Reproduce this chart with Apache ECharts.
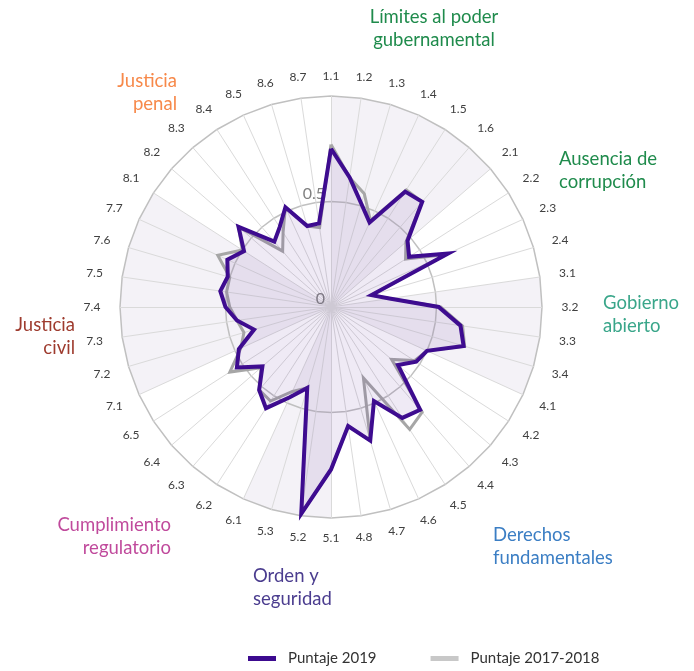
<!DOCTYPE html>
<html>
<head>
<meta charset="utf-8">
<script src="https://cdn.jsdelivr.net/npm/echarts@6/dist/echarts.min.js"></script>
<style>
  html, body { margin: 0; padding: 0; background: #ffffff; }
  #chart { width: 694px; height: 671px; }
</style>
</head>
<body>
<div id="chart"></div>
<script>
// Sub-factor codes, clockwise from the top
const indicators = [
  '1.1','1.2','1.3','1.4','1.5','1.6',
  '2.1','2.2','2.3','2.4',
  '3.1','3.2','3.3','3.4',
  '4.1','4.2','4.3','4.4','4.5','4.6','4.7','4.8',
  '5.1','5.2','5.3',
  '6.1','6.2','6.3','6.4','6.5',
  '7.1','7.2','7.3','7.4','7.5','7.6','7.7',
  '8.1','8.2','8.3','8.4','8.5','8.6','8.7'
];

const score2019 = [
  0.75, 0.62, 0.51, 0.44, 0.65, 0.66,
  0.48, 0.44, 0.61, 0.20,
  0.28, 0.51, 0.62, 0.655,
  0.50, 0.48, 0.42, 0.645, 0.625, 0.49, 0.66, 0.57,
  0.77, 0.99, 0.40,
  0.47, 0.57, 0.52, 0.43, 0.53,
  0.48, 0.38, 0.45, 0.50, 0.53, 0.51, 0.54,
  0.49, 0.58, 0.41, 0.45, 0.52, 0.40, 0.40
];

const score2017 = [
  0.77, 0.62, 0.56, 0.45, 0.66, 0.66,
  0.47, 0.42, 0.60, 0.20,
  0.28, 0.52, 0.63, 0.66,
  0.50, 0.47, 0.38, 0.66, 0.69, 0.37, 0.66, 0.57,
  0.77, 0.99, 0.40,
  0.44, 0.53, 0.52, 0.44, 0.57,
  0.47, 0.43, 0.45, 0.48, 0.50, 0.50, 0.59,
  0.50, 0.58, 0.35, 0.42, 0.52, 0.40, 0.38
];

const pillarNames = [
  'Límites al poder\ngubernamental',
  'Ausencia de\ncorrupción',
  'Gobierno\nabierto',
  'Derechos\nfundamentales',
  'Orden y\nseguridad',
  'Cumplimiento\nregulatorio',
  'Justicia\ncivil',
  'Justicia\npenal'
];

const shadedPillars = ['1', '3', '5', '7'];

const seriesNames = ['Puntaje 2019', 'Puntaje 2017-2018'];

// ---------------------------------------------------------------
const CX = 331, CY = 307, R = 211;
const FONT = 'Lato, "Open Sans", sans-serif';
const N = indicators.length;

// ECharts lays radar indicators out counter-clockwise; keep the first
// one on top and reverse the rest so the codes run clockwise.
const order = [0].concat(indicators.map((_, i) => i).slice(1).reverse());
const reorder = arr => order.map(i => arr[i]);

// Polygon sector of a pillar: from its first spoke to the first spoke of the next pillar
function sectorValues(p) {
  const start = indicators.findIndex(s => s.split('.')[0] === p);
  const end = indicators.findIndex((s, i) => i > start && s.split('.')[0] !== p);
  const vals = indicators.map(() => 0);
  for (let i = start; i <= (end < 0 ? N - 1 : end); i++) vals[i] = 1;
  if (end < 0) vals[0] = 1;
  return vals;
}

const pillarStyle = [
  { x: 434, y: 6,   align: 'center', color: '#1f8b4c' },
  { x: 559, y: 148, align: 'left',   color: '#1f8b4c' },
  { x: 603, y: 292, align: 'left',   color: '#3aa68a' },
  { x: 493, y: 524, align: 'left',   color: '#3b7ec4' },
  { x: 253, y: 565, align: 'left',   color: '#4b3d8f' },
  { x: 171, y: 514, align: 'right',  color: '#c04a9c' },
  { x: 75,  y: 314, align: 'right',  color: '#9e3b2e' },
  { x: 177, y: 70,  align: 'right',  color: '#f7894a' }
];

const chart = echarts.init(document.getElementById('chart'));

chart.setOption({
  backgroundColor: '#ffffff',
  animation: false,
  legend: {
    left: 248,
    top: 651,
    padding: 0,
    icon: 'rect',
    itemWidth: 28,
    itemHeight: 5,
    itemGap: 54,
    textStyle: { fontSize: 15, color: '#333333', fontFamily: FONT, padding: [0, 0, 0, 7] },
    data: [
      { name: seriesNames[0], itemStyle: { color: '#3c0a8f' } },
      { name: seriesNames[1], itemStyle: { color: '#c8c8c8' } }
    ]
  },
  radar: {
    center: [CX, CY],
    radius: R,
    startAngle: 90,
    shape: 'polygon',
    splitNumber: 2,
    z: 3,
    nameGap: 20,
    axisName: { color: '#404040', fontSize: 12, fontFamily: FONT, align: 'center', verticalAlign: 'middle' },
    axisLine: { lineStyle: { color: '#dadada', width: 1 } },
    splitLine: { lineStyle: { color: '#c0c0c0', width: 1.5 } },
    splitArea: { show: false },
    axisLabel: { show: false },
    indicator: order.map((k, i) => {
      const theta = k * 2 * Math.PI / N;
      // codes sit a little further out at the sides, where they are widest
      const ind = { name: indicators[k], min: 0, max: 1, nameGap: 20 + 8 * Math.abs(Math.sin(theta)) };
      if (i === 0) {
        ind.axisLabel = {
          show: true,
          fontSize: 16,
          color: '#808080',
          fontFamily: FONT,
          margin: 6,
          verticalAlign: 'bottom',
          formatter: v => (v >= 1 ? '' : String(v))
        };
      }
      return ind;
    })
  },
  series: [
    {
      type: 'radar',
      z: 1,
      silent: true,
      symbol: 'none',
      lineStyle: { width: 0, opacity: 0 },
      areaStyle: { color: '#f4f2f7', opacity: 1 },
      data: shadedPillars.map(p => ({ name: 'sector ' + p, value: reorder(sectorValues(p)) }))
    },
    {
      type: 'radar',
      z: 4,
      symbol: 'none',
      data: [{
        name: seriesNames[1],
        value: reorder(score2017),
        lineStyle: { color: '#a6a6a6', width: 3, join: 'miter' },
        itemStyle: { color: '#c8c8c8' }
      }]
    },
    {
      type: 'radar',
      z: 5,
      symbol: 'none',
      data: [{
        name: seriesNames[0],
        value: reorder(score2019),
        lineStyle: { color: '#3c0a8f', width: 4, join: 'miter' },
        itemStyle: { color: '#3c0a8f' },
        areaStyle: { color: 'rgba(100, 60, 160, 0.15)' }
      }]
    }
  ],
  graphic: pillarNames.map((name, k) => ({
    type: 'text',
    x: pillarStyle[k].x,
    y: pillarStyle[k].y,
    silent: true,
    style: {
      text: name,
      fill: pillarStyle[k].color,
      fontSize: 18.5,
      fontFamily: FONT,
      lineHeight: 23,
      align: pillarStyle[k].align,
      verticalAlign: 'top'
    }
  }))
});
</script>
</body>
</html>
